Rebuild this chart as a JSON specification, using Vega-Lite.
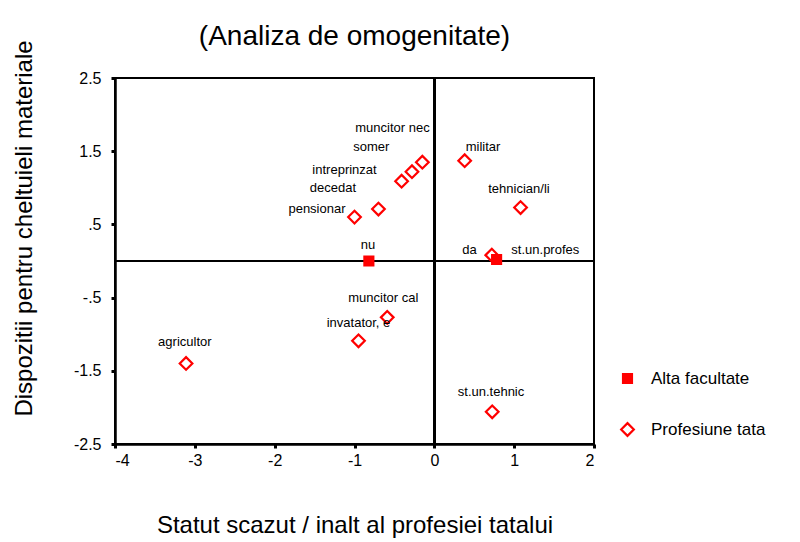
{
  "$schema": "https://vega.github.io/schema/vega-lite/v6.json",
  "autosize": {"type": "none"},
  "width": 479,
  "height": 366,
  "padding": {"left": 115, "top": 78, "right": 206, "bottom": 98},
  "background": "white",
  "title": {"text": "(Analiza de omogenitate)", "font": "Liberation Sans", "fontSize": 28, "fontWeight": "normal", "color": "black", "anchor": "middle", "offset": 23, "dy": 34},
  "config": {
    "view": {"stroke": "black", "strokeWidth": 2},
    "axis": {"grid": false, "domainColor": "black", "domainWidth": 2.5, "tickColor": "black", "tickSize": 4, "tickWidth": 3, "labelFont": "Liberation Sans", "labelFontSize": 16, "labelColor": "black", "titleFont": "Liberation Sans", "titleFontSize": 24, "titleFontWeight": "normal", "titleColor": "black"},
    "legend": {"labelFont": "Liberation Sans", "labelFontSize": 17, "labelColor": "black"}
  },
  "data": {"values": [
    {"label": "agricultor", "series": "Profesiune tata", "x": -3.11, "y": -1.40, "lx": -3.125, "ly": -1.105},
    {"label": "invatator, e", "series": "Profesiune tata", "x": -0.95, "y": -1.09, "lx": -0.95, "ly": -0.85},
    {"label": "muncitor cal", "series": "Profesiune tata", "x": -0.59, "y": -0.77, "lx": -0.64, "ly": -0.50},
    {"label": "st.un.tehnic", "series": "Profesiune tata", "x": 0.725, "y": -2.06, "lx": 0.71, "ly": -1.785},
    {"label": "pensionar", "series": "Profesiune tata", "x": -1.0, "y": 0.60, "lx": -1.47, "ly": 0.71},
    {"label": "decedat", "series": "Profesiune tata", "x": -0.70, "y": 0.71, "lx": -1.27, "ly": 1.0},
    {"label": "intreprinzat", "series": "Profesiune tata", "x": -0.41, "y": 1.09, "lx": -1.125, "ly": 1.25},
    {"label": "somer", "series": "Profesiune tata", "x": -0.28, "y": 1.22, "lx": -0.79, "ly": 1.56},
    {"label": "muncitor nec", "series": "Profesiune tata", "x": -0.15, "y": 1.35, "lx": -0.525, "ly": 1.82},
    {"label": "militar", "series": "Profesiune tata", "x": 0.38, "y": 1.37, "lx": 0.61, "ly": 1.56},
    {"label": "tehnician/li", "series": "Profesiune tata", "x": 1.08, "y": 0.73, "lx": 1.06, "ly": 0.99},
    {"label": "st.un.profes", "series": "Profesiune tata", "x": 0.72, "y": 0.08, "lx": 1.39, "ly": 0.155},
    {"label": "da", "series": "Alta facultate", "x": 0.78, "y": 0.02, "lx": 0.44, "ly": 0.155},
    {"label": "nu", "series": "Alta facultate", "x": -0.82, "y": 0.0, "lx": -0.83, "ly": 0.22}
  ]},
  "layer": [
    {
      "mark": {"type": "rule", "color": "black", "strokeWidth": 2},
      "encoding": {"x": {"datum": 0, "type": "quantitative"}}
    },
    {
      "mark": {"type": "rule", "color": "black", "strokeWidth": 2},
      "encoding": {"y": {"datum": 0, "type": "quantitative"}}
    },
    {
      "mark": {"type": "point", "stroke": "#ff0000", "strokeWidth": 2.2, "opacity": 1},
      "encoding": {
        "x": {"field": "x", "type": "quantitative", "scale": {"domain": [-4, 2], "nice": false, "zero": false},
              "axis": {"values": [-4, -3, -2, -1, 0, 1, 2], "title": "Statut scazut / inalt al profesiei tatalui", "titlePadding": 45, "labelPadding": 4,
                       "labelExpr": "datum.value < 0 ? '-' + (-datum.value) : '' + datum.value"}},
        "y": {"field": "y", "type": "quantitative", "scale": {"domain": [-2.5, 2.5], "nice": false, "zero": false},
              "axis": {"values": [-2.5, -1.5, -0.5, 0.5, 1.5, 2.5], "title": "Dispozitii pentru cheltuieli materiale", "titlePadding": 37, "labelPadding": 10, "titleY": 150,
                       "labelExpr": "datum.value == 0.5 ? '.5' : datum.value == -0.5 ? '-.5' : datum.value < 0 ? '-' + (-datum.value) : '' + datum.value"}},
        "shape": {"field": "series", "type": "nominal", "scale": {"domain": ["Alta facultate", "Profesiune tata"], "range": ["square", "diamond"]},
                  "legend": {"title": null, "orient": "none", "legendX": 504, "legendY": 292, "rowPadding": 30, "labelOffset": 15, "symbolStrokeWidth": 2.2,
                             "encode": {"symbols": {"update": {"stroke": {"value": "#ff0000"}, "strokeWidth": {"value": 2.2}}}}}},
        "fill": {"field": "series", "type": "nominal", "scale": {"domain": ["Alta facultate", "Profesiune tata"], "range": ["#ff0000", "white"]},
                 "legend": {"title": null, "orient": "none", "legendX": 504, "legendY": 292, "rowPadding": 30, "labelOffset": 15, "symbolStrokeWidth": 2.2,
                             "encode": {"symbols": {"update": {"stroke": {"value": "#ff0000"}, "strokeWidth": {"value": 2.2}}}}}},
        "size": {"field": "series", "type": "nominal", "scale": {"domain": ["Alta facultate", "Profesiune tata"], "range": [80, 160]},
                 "legend": {"title": null, "orient": "none", "legendX": 504, "legendY": 292, "rowPadding": 30, "labelOffset": 15, "symbolStrokeWidth": 2.2,
                             "encode": {"symbols": {"update": {"stroke": {"value": "#ff0000"}, "strokeWidth": {"value": 2.2}}}}}}
      }
    },
    {
      "mark": {"type": "text", "font": "Liberation Sans", "fontSize": 13, "color": "black", "align": "center", "baseline": "middle"},
      "encoding": {
        "x": {"field": "lx", "type": "quantitative"},
        "y": {"field": "ly", "type": "quantitative"},
        "text": {"field": "label"}
      }
    }
  ]
}
